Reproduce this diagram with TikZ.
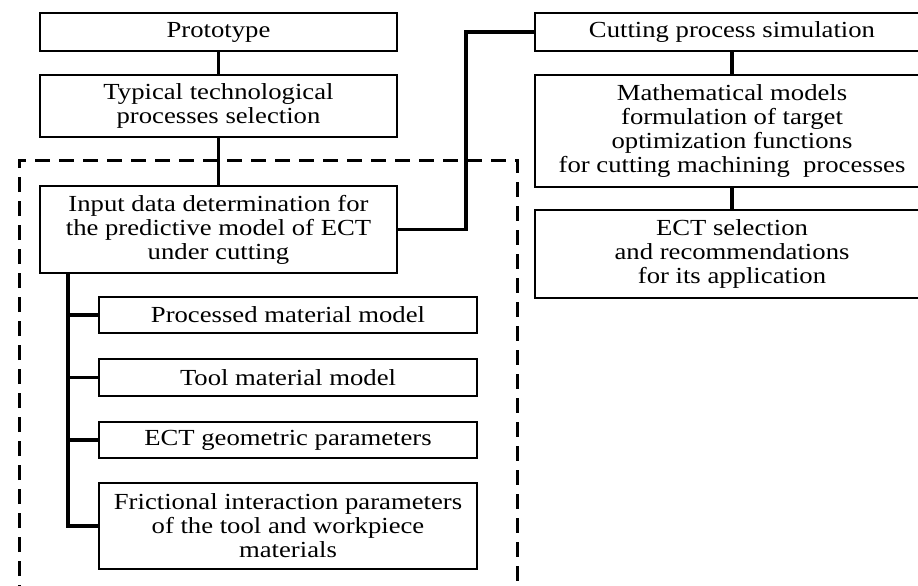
\documentclass[tikz,border=0pt]{standalone}
\usepackage{fontspec}
\setmainfont[FakeStretch=1.16]{Liberation Serif}
\begin{document}
\begin{tikzpicture}[x=1pt,y=-1pt,
  box/.style={draw=black, line width=1.3pt, fill=white, align=center, inner sep=2pt,
    font=\fontsize{23}{24}\selectfont},
  conn/.style={line width=3.8pt},
  dashbox/.style={line width=3pt, dash pattern=on 15pt off 9pt}]
\useasboundingbox (0,0) rectangle (918,586);
\clip (0,0) rectangle (918,586);
% dashed region
\draw[dashbox] (19,600) -- (19,160) -- (517,160) -- (517,600);
% left column
\node[box, minimum width=357pt, minimum height=38pt] (proto) at (218.5,32) {Prototype};
\node[box, minimum width=357pt, minimum height=62pt] (typ) at (218.5,106) {Typical technological\\processes selection};
\node[box, minimum width=357pt, minimum height=87pt] (inp) at (218.5,229.5) {Input data determination for\\the predictive model of ECT\\under cutting};
% sub boxes
\node[box, minimum width=378pt, minimum height=36pt] (proc) at (288,315) {Processed material model};
\node[box, minimum width=378pt, minimum height=37pt] (tool) at (288,377.5) {Tool material model};
\node[box, minimum width=378pt, minimum height=36pt] (geo) at (288,440) {ECT geometric parameters};
\node[box, minimum width=378pt, minimum height=86pt] (fric) at (288,526) {Frictional interaction parameters\\of the tool and workpiece\\materials};
% right column
\node[box, minimum width=394pt, minimum height=38pt] (cut) at (732,32) {Cutting process simulation};
\node[box, minimum width=394pt, minimum height=112pt] (math) at (732,131) {Mathematical models\\formulation of target\\optimization functions\\for cutting machining\ \ processes};
\node[box, minimum width=394pt, minimum height=88pt] (sel) at (732,254) {ECT selection\\and recommendations\\for its application};
\coordinate (bus) at (68,0);
% connectors
\draw[conn] (proto.south) -- (typ.north);
\draw[conn] (typ.south) -- (inp.north);
\draw[conn] (cut.south) -- (math.north);
\draw[conn] (math.south) -- (sel.north);
\draw[conn] (inp.east) -- (466,229.5) |- (cut.west);
\draw[conn] (bus |- inp.south) |- (fric.west);
\draw[conn] (bus |- proc.west) -- (proc.west);
\draw[conn] (bus |- tool.west) -- (tool.west);
\draw[conn] (bus |- geo.west) -- (geo.west);
\end{tikzpicture}
\end{document}
